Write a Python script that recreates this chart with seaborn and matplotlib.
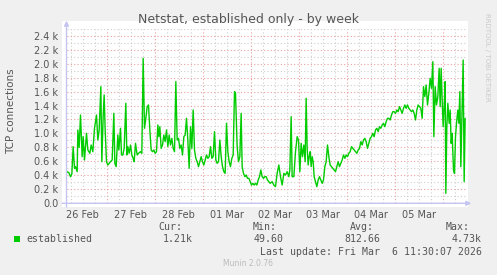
import matplotlib
matplotlib.use("Agg")
import matplotlib.pyplot as plt
import numpy as np
import pandas as pd
import seaborn as sns
from matplotlib.ticker import MultipleLocator, FuncFormatter, NullFormatter
from matplotlib.patches import Rectangle

# ---------------- data ----------------
title = "Netstat, established only - by week"
ylabel = "TCP connections"
day_labels = ["26 Feb", "27 Feb", "28 Feb", "01 Mar", "02 Mar", "03 Mar", "04 Mar", "05 Mar"]
series_name = "established"
stat_names = ["Cur:", "Min:", "Avg:", "Max:"]
stat_values = ["1.21k", "49.60", "812.66", "4.73k"]
last_update = "Last update: Fri Mar  6 11:30:07 2026"
footer = "Munin 2.0.76"
watermark = "RRDTOOL / TOBI OETIKER"

# hours since 26 Feb 00:00
hours = [
    4.0, 5.17, 6.0, 6.67, 7.33, 8.0, 8.5, 9.33, 9.67, 10.33, 11.0, 11.83, 12.33, 13.0, 14.0, 14.67,
    15.67, 16.33, 17.17, 18.0, 19.0, 19.67, 20.33, 21.17, 21.67, 22.33, 22.83, 23.33, 24.0, 24.67,
    25.33, 26.0, 26.83, 27.67, 28.17, 28.83, 29.67, 30.17, 31.0, 31.5, 32.17, 32.83, 33.67, 34.17,
    34.67, 35.33, 36.0, 36.67, 37.33, 37.83, 38.5, 39.33, 40.0, 41.0, 41.67, 42.33, 43.0, 43.67,
    44.33, 45.0, 45.67, 46.33, 47.0, 47.67, 48.33, 49.0, 49.67, 50.17, 50.67, 51.33, 52.0, 52.67,
    53.33, 54.0, 54.67, 55.33, 56.0, 56.67, 57.33, 58.0, 58.67, 59.33, 60.0, 60.67, 61.33, 62.0,
    62.67, 63.33, 64.0, 64.67, 65.33, 66.0, 66.67, 67.33, 68.0, 68.67, 69.33, 70.0, 70.67, 71.33,
    72.0, 72.67, 73.33, 74.0, 74.67, 75.33, 76.0, 76.67, 77.33, 78.0, 78.67, 79.33, 80.0, 80.67,
    81.33, 82.0, 82.67, 83.33, 84.0, 84.67, 85.33, 86.0, 86.67, 87.33, 88.0, 88.5, 89.33, 90.0,
    90.67, 91.33, 91.83, 92.5, 93.17, 93.83, 94.5, 95.17, 95.83, 96.5, 97.17, 97.83, 98.5, 99.17,
    99.83, 100.5, 101.17, 101.83, 102.5, 103.17, 103.83, 104.5, 105.17, 105.83,
    106.83, 107.67, 108.5, 109.33, 110.17, 111.0, 111.83, 112.67, 113.5, 114.33, 115.17, 115.67,
    116.33, 116.83, 117.67, 118.5, 119.33, 120.0, 120.67, 121.33, 122.0, 122.67, 123.33, 123.83,
    124.33, 124.83, 125.33, 125.83, 126.33, 126.83, 127.33, 127.83, 128.5, 129.17, 129.83, 130.5,
    131.17, 131.83, 132.5, 133.17, 133.83, 134.5, 135.17, 135.83, 136.5, 137.17, 137.83, 138.5,
    139.17, 139.83, 140.5, 141.17, 141.83, 142.5, 143.17, 143.83, 144.5, 145.17, 145.83, 146.5,
    147.17, 147.83, 148.5, 149.17, 149.83, 150.5, 151.17, 151.83, 152.5, 153.17, 153.83, 154.5,
    155.17, 155.83, 156.5, 157.17, 157.83, 158.5, 159.17, 159.83, 160.5, 161.17, 161.83, 162.5,
    163.17, 163.83, 164.5, 165.17, 165.83, 166.5, 167.17, 167.83, 168.5, 169.17, 169.83, 170.5,
    171.17, 171.83, 172.5, 173.17, 173.83, 174.5, 175.17, 175.83, 176.5, 177.17, 177.83, 178.5,
    179.17, 179.83, 180.5, 181.17, 181.83, 182.5, 183.17, 183.83, 184.5, 185.17, 185.83, 186.5,
    187.17, 187.67, 188.33, 189.0, 189.67, 190.33, 190.83, 191.33, 191.83, 192.33, 192.83, 193.33,
    193.67, 194.17, 194.67, 195.33, 195.83, 196.33, 196.83, 197.5, 198.0, 198.5, 199.0, 199.67,
    200.17, 200.67, 201.17, 201.83, 202.33, 202.83, 203.33,
]
conns = [
    453, 440, 381, 420, 811, 500, 525, 453, 1050, 800, 1264, 668, 954, 620, 1002, 763,
    716, 835, 739, 1074, 1264, 906, 1050, 1670, 596, 1241, 1551, 1050, 596, 548,
    572, 596, 620, 1288, 572, 525, 978, 763, 1074, 692, 692, 787, 1432, 692,
    811, 716, 835, 692, 644, 596, 859, 692, 716, 739, 716, 2076, 1074, 1217,
    1384, 1408, 1050, 763, 739, 763, 716, 739, 1121, 954, 1097, 787, 835, 978,
    883, 1050, 811, 978, 835, 930, 787, 739, 1742, 906, 930, 787, 835, 692,
    954, 978, 1217, 906, 501, 1097, 787, 1336, 763, 644, 596, 525, 596, 668,
    596, 548, 620, 692, 644, 668, 811, 644, 668, 1026, 620, 572, 596, 906,
    668, 525, 453, 429, 1145, 739, 596, 525, 644, 692, 1599, 1575, 811, 596,
    668, 1288, 525, 429, 381, 405, 358, 358, 310, 262, 286, 262, 286, 262,
    334, 381, 477, 381, 358, 381, 381, 334, 310, 286,
    310, 262, 238, 429, 548, 381, 262, 429, 405, 453, 381, 477,
    1241, 381, 381, 739, 954, 906, 453, 859, 668, 835, 596, 1504,
    787, 548, 668, 739, 525, 668, 596, 381, 310, 238, 334, 381,
    334, 286, 334, 525, 596, 835, 668, 548, 525, 501, 477, 453,
    525, 596, 525, 572, 620, 692, 644, 692, 668, 716, 739, 811,
    787, 763, 739, 716, 763, 787, 883, 835, 906, 930, 883, 787,
    859, 930, 954, 1002, 954, 1050, 1074, 1026, 1097, 1074, 1121, 1145,
    1097, 1169, 1217, 1217, 1193, 1264, 1312, 1312, 1288, 1336, 1312, 1384,
    1336, 1288, 1360, 1408, 1360, 1408, 1360, 1336, 1312, 1336, 1288, 1193,
    1336, 1408, 1384, 1360, 1217, 1670, 1527, 1694, 1408, 1575, 1790, 1646,
    2028, 954, 1670, 1408, 1527, 1933, 1384, 1933, 1479, 1097, 1384, 1742,
    143, 1097, 1432, 1145, 1336, 859, 1002, 477, 429, 954, 1145, 1336,
    1145, 1599, 525, 1384, 2052, 310, 1217,
]

# ---------------- style ----------------
sns.set_style("white")
plt.rcParams["font.family"] = ["DejaVu Sans"]

W, H = 497, 275
TXT = "#555555"
PINK = "#EBA0A0"
GRAY = "#CFCFCF"
AXC = "#C4C4F0"


def fx(x):
    return x / W


def fy(y):
    return 1 - y / H


fig = plt.figure(figsize=(W / 100, H / 100), dpi=100, facecolor="#F0F0F0")
fig.add_artist(Rectangle((fx(62), fy(207)), (468 - 62) / W, (207 - 21) / H,
                         transform=fig.transFigure, facecolor="white",
                         edgecolor="none", zorder=0))

ax = fig.add_axes([fx(66.5), fy(203.3), 400 / W, 174.6 / H])
ax.patch.set_alpha(0)

df = pd.DataFrame({"hour": hours, "conns": conns})
sns.lineplot(data=df, x="hour", y="conns", ax=ax, color="#00CC00",
             linewidth=1.0, zorder=5, estimator=None)
ax.set_xlabel("")
ax.set_ylabel("")
ax.set_xlim(4, 204)
ax.set_ylim(0, 2500)

for s in ax.spines.values():
    s.set_visible(False)

# x ticks: midnight majors, 6h minors, labels at noon
ax.xaxis.set_major_locator(MultipleLocator(24))
ax.xaxis.set_minor_locator(MultipleLocator(6))
ax.xaxis.set_major_formatter(NullFormatter())


def xfmt(v, pos):
    h = int(round(v))
    if h % 24 == 12:
        i = h // 24
        if 0 <= i < len(day_labels):
            return day_labels[i]
    return ""


ax.xaxis.set_minor_formatter(FuncFormatter(xfmt))

ax.yaxis.set_major_locator(MultipleLocator(200))
ax.yaxis.set_minor_locator(MultipleLocator(100))
ax.yaxis.set_major_formatter(FuncFormatter(
    lambda v, p: "0.0" if v == 0 else f"{v / 1000:.1f} k"))
ax.yaxis.set_minor_formatter(NullFormatter())

ax.tick_params(axis="both", which="major", length=3, width=0.8, color=PINK,
               direction="out", labelsize=7, labelcolor=TXT)
ax.tick_params(axis="both", which="minor", length=3, width=0.8, color=GRAY,
               direction="out", labelsize=7, labelcolor=TXT)
ax.tick_params(axis="x", which="both", pad=1.6)
ax.tick_params(axis="y", which="both", pad=3.0)

ax.set_axisbelow(True)
ax.grid(which="minor", color=GRAY, linestyle=(0, (1, 2)), linewidth=0.8)
ax.grid(which="major", color=PINK, linestyle=(0, (1, 2)), linewidth=0.8)

# axis lines with arrows
ax.annotate("", xy=(1.012, 0), xytext=(-0.011, 0), xycoords="axes fraction",
            textcoords="axes fraction", annotation_clip=False,
            arrowprops=dict(arrowstyle="-|>", color=AXC, lw=1.0,
                            mutation_scale=7, shrinkA=0, shrinkB=0))
ax.annotate("", xy=(0, 1.046), xytext=(0, -0.021), xycoords="axes fraction",
            textcoords="axes fraction", annotation_clip=False,
            arrowprops=dict(arrowstyle="-|>", color=AXC, lw=1.0,
                            mutation_scale=7, shrinkA=0, shrinkB=0))

# titles and labels
fig.text(fx(248.5), fy(19), title, ha="center", va="center", fontsize=9, color=TXT)
fig.text(fx(11), fy(111), ylabel, ha="center", va="center", rotation=90,
         fontsize=7.5, color=TXT)
fig.text(fx(487), fy(13), watermark, ha="center", va="top", rotation=270,
         fontsize=5.0, color="#CACACA")

# legend
mono = "DejaVu Sans Mono"
fig.add_artist(Rectangle((fx(14), fy(242)), 6 / W, 6 / H, transform=fig.transFigure,
                         facecolor="#00CC00", edgecolor="none"))
fig.text(fx(26), fy(239.5), series_name, ha="left", va="center",
         fontsize=7.1, family=mono, color=TXT)
name_right = [182, 277, 374, 470]
val_right = [193, 284, 380, 482]
for n, xr in zip(stat_names, name_right):
    fig.text(fx(xr), fy(227), n, ha="right", va="center", fontsize=7.1,
             family=mono, color=TXT)
for v, xr in zip(stat_values, val_right):
    fig.text(fx(xr), fy(239.5), v, ha="right", va="center", fontsize=7.1,
             family=mono, color=TXT)
fig.text(fx(482), fy(252), last_update, ha="right", va="center", fontsize=7.1,
         family=mono, color=TXT)
fig.text(fx(248), fy(264), footer, ha="center", va="center", fontsize=5.5,
         color="#BBBBBB")

fig.savefig("out.png", dpi=100, facecolor=fig.get_facecolor())
